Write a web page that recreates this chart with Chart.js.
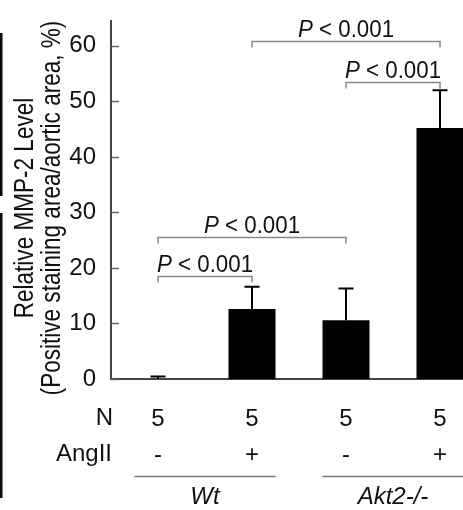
<!DOCTYPE html>
<html><head><meta charset="utf-8">
<script src="https://cdn.jsdelivr.net/npm/chart.js@4.4.1/dist/chart.umd.min.js"></script>
<style>
html,body{margin:0;padding:0;background:#fff;overflow:hidden}
#wrap{width:463px;height:510px;overflow:hidden;position:relative;background:#fff}
canvas{display:block}
</style></head><body>
<div id="wrap"><canvas id="c" width="487" height="510"></canvas></div>
<script>
// ---- data ----
const categories = ['Wt AngII-', 'Wt AngII+', 'Akt2-/- AngII-', 'Akt2-/- AngII+'];
const nRow = ['5', '5', '5', '5'];
const angIIRow = ['-', '+', '-', '+'];
const rowNames = ['N', 'AngII'];
const groupNames = ['Wt', 'Akt2-/-'];
const groupFirst = [0, 2];
const groupLast = [1, 3];
const means = [0, 12.6, 10.6, 45.2];
const errors = [0.45, 4.0, 5.7, 6.8];
const yTicks = [0, 10, 20, 30, 40, 50, 60];
const compFrom = [0, 0, 1, 2];
const compTo = [1, 2, 3, 3];
const compLevel = [18.5, 25.6, 60.8, 53.5];
const compText = ['P < 0.001', 'P < 0.001', 'P < 0.001', 'P < 0.001'];
const yTitle = ['Relative MMP-2 Level', '(Positive staining area/aortic area, %)'];

const FONT = '"Liberation Sans", Arial, Helvetica, sans-serif';
const TXT = '#111';

const deco = {
  id: 'deco',
  beforeDraw(chart) {
    const ctx = chart.ctx;
    ctx.save();
    ctx.fillStyle = '#050905';
    ctx.fillRect(0, 33, 2.5, 163);
    ctx.fillStyle = '#061106';
    ctx.fillRect(0, 213, 2.5, 285);
    ctx.restore();
  },
  afterDraw(chart) {
    const ctx = chart.ctx, xs = chart.scales.x, ys = chart.scales.y;
    const meta = chart.getDatasetMeta(0);
    ctx.save();
    // inward y tick marks
    ctx.strokeStyle = '#666'; ctx.lineWidth = 1.5;
    yTicks.forEach(v => {
      const py = Math.round(ys.getPixelForValue(v)) + 0.5;
      ctx.beginPath(); ctx.moveTo(ys.right, py); ctx.lineTo(ys.right + 8, py); ctx.stroke();
    });
    // error bars
    ctx.strokeStyle = '#000'; ctx.lineWidth = 2;
    meta.data.forEach((bar, i) => {
      const cx = bar.x;
      const y0 = ys.getPixelForValue(means[i]);
      const y1 = ys.getPixelForValue(means[i] + errors[i]);
      ctx.beginPath();
      ctx.moveTo(cx, y0); ctx.lineTo(cx, y1);
      ctx.moveTo(cx - 7.5, y1); ctx.lineTo(cx + 7.5, y1);
      ctx.stroke();
    });
    // comparison brackets
    const SX = 0.91;
    compFrom.forEach((f, k) => {
      const xa = meta.data[f].x, xb = meta.data[compTo[k]].x;
      const py = Math.round(ys.getPixelForValue(compLevel[k])) + 0.5;
      ctx.strokeStyle = '#888'; ctx.lineWidth = 1.5;
      ctx.beginPath();
      ctx.moveTo(xa, py + 6); ctx.lineTo(xa, py); ctx.lineTo(xb, py); ctx.lineTo(xb, py + 6);
      ctx.stroke();
      const first = compText[k].slice(0, 1), rest = compText[k].slice(1);
      ctx.fillStyle = TXT; ctx.textBaseline = 'alphabetic'; ctx.textAlign = 'left';
      ctx.font = 'italic 24.5px ' + FONT;
      const w1 = ctx.measureText(first).width;
      ctx.font = '24.5px ' + FONT;
      const w2 = ctx.measureText(rest).width;
      ctx.save();
      ctx.translate((xa + xb) / 2, py - 5);
      ctx.scale(SX, 1);
      const sx = -(w1 + w2) / 2;
      ctx.font = 'italic 24.5px ' + FONT;
      ctx.fillText(first, sx, 0);
      ctx.font = '24.5px ' + FONT;
      ctx.fillText(rest, sx + w1, 0);
      ctx.restore();
    });
    // row names
    ctx.fillStyle = TXT; ctx.font = '24px ' + FONT;
    ctx.textAlign = 'right'; ctx.textBaseline = 'alphabetic';
    ctx.fillText(rowNames[0], 113, 425);
    ctx.fillText(rowNames[1], 112, 461);
    // groups
    groupNames.forEach((g, k) => {
      const a = meta.data[groupFirst[k]], b = meta.data[groupLast[k]];
      const x0 = a.x - a.width / 2, x1 = b.x + b.width / 2;
      ctx.strokeStyle = '#777'; ctx.lineWidth = 1.5;
      ctx.beginPath(); ctx.moveTo(x0, 476.5); ctx.lineTo(x1, 476.5); ctx.stroke();
      ctx.fillStyle = TXT; ctx.font = 'italic 24px ' + FONT;
      ctx.textAlign = 'center'; ctx.textBaseline = 'alphabetic';
      ctx.fillText(g, (x0 + x1) / 2, 504);
    });
    // y title (condensed)
    ctx.fillStyle = TXT; ctx.font = '27.5px ' + FONT;
    ctx.textAlign = 'center'; ctx.textBaseline = 'alphabetic';
    [33, 60].forEach((bx, k) => {
      ctx.save();
      ctx.translate(bx, 208);
      ctx.rotate(-Math.PI / 2);
      ctx.scale(0.82, 1);
      ctx.fillText(yTitle[k], 0, 0);
      ctx.restore();
    });
    ctx.restore();
  }
};

new Chart(document.getElementById('c'), {
  type: 'bar',
  data: {
    labels: categories,
    datasets: [{
      data: means,
      backgroundColor: '#000',
      borderWidth: 0,
      barPercentage: 0.5,
      categoryPercentage: 1.0
    }]
  },
  options: {
    responsive: false,
    animation: false,
    devicePixelRatio: 1,
    layout: { padding: { top: 17, left: 0, right: 0, bottom: 0 } },
    plugins: { legend: { display: false }, tooltip: { enabled: false } },
    scales: {
      x: {
        grid: { display: false },
        border: { display: true, color: '#444', width: 2 },
        ticks: {
          color: TXT,
          font: { family: FONT, size: 24, lineHeight: 1.5 },
          padding: 14,
          maxRotation: 0,
          autoSkip: false,
          callback: (v, i) => [nRow[i], angIIRow[i]]
        },
        afterFit: s => { s.height = 131; }
      },
      y: {
        min: 0,
        max: 64.4,
        grid: { display: false },
        border: { display: true, color: '#444', width: 2 },
        ticks: {
          color: TXT,
          font: { family: FONT, size: 24 },
          padding: 7,
          stepSize: 10,
          includeBounds: false,
          callback: v => (yTicks.includes(v) ? String(v) : null)
        },
        afterFit: s => { s.width = 111; }
      }
    }
  },
  plugins: [deco]
});
</script>
</body></html>
